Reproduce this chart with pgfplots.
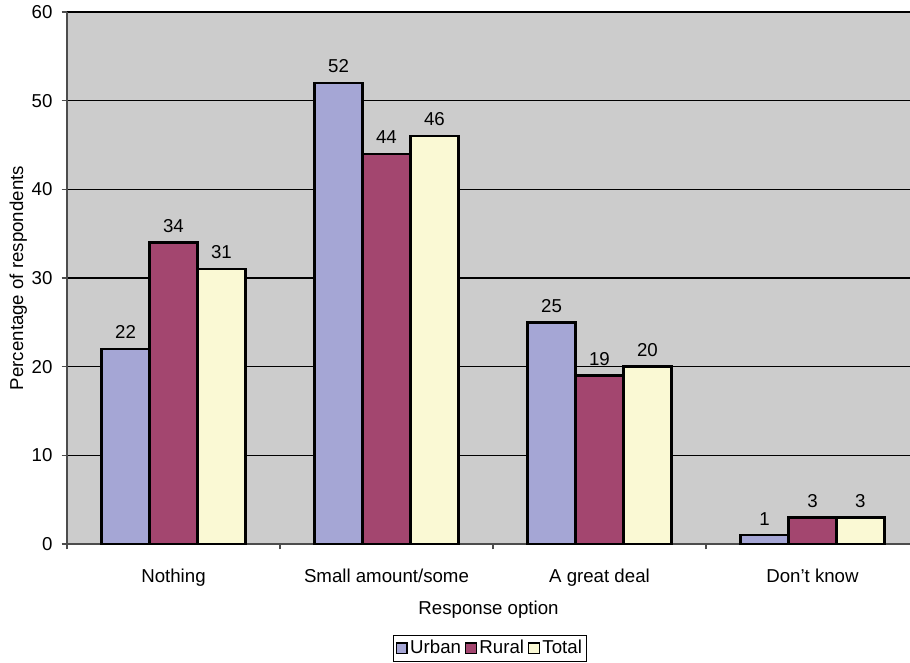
\documentclass[border=0pt]{standalone}
\usepackage{fontspec}
\setmainfont{Liberation Sans}
\usepackage{pgfplots}
\pgfplotsset{compat=1.18}
\definecolor{urban}{HTML}{A5A6D5}
\definecolor{rural}{HTML}{A3466F}
\definecolor{total}{HTML}{FAF9D4}
\definecolor{bg}{HTML}{CCCCCC}
\begin{document}
\fontsize{14}{16}\selectfont
\begin{tikzpicture}
\path[use as bounding box] (-50.25pt,-88.5pt) rectangle (632.25pt,408pt);
\begin{axis}[
  at={(0,0)}, anchor=south west,
  scale only axis,
  width=632.25pt, height=399pt,
  ybar=0pt, bar width=0.225,
  xmin=-0.5, xmax=3.458,
  ymin=0, ymax=60,
  ytick={0,10,...,60},
  xtick={0,1,2,3},
  xticklabels={Nothing, Small amount/some, A great deal, Don't know},
  minor xtick={-0.5,0.5,1.5,2.5},
  major x tick style={draw=none},
  minor tick length=4pt,
  major tick length=4pt,
  tick align=outside,
  tick style={black!70, line width=0.8pt},
  axis x line*=bottom, axis y line*=left,
  axis line style={black!70, line width=1pt},
  axis background/.style={fill=bg},
  ymajorgrids, grid style={black, line width=0.8pt},
  xticklabel style={yshift=-10pt},
  yticklabel style={xshift=-2pt},
  /pgf/number format/assume math mode=true,
  xlabel={Response option},
  ylabel={Percentage of respondents},
  xlabel style={yshift=-1pt},
  ylabel style={yshift=-6pt},
  nodes near coords,
  nodes near coords style={yshift=2pt, /pgf/number format/assume math mode=true},
  every axis plot/.append style={draw=black, line width=1.8pt},
  legend style={at={(0.502,-0.171)}, anchor=north, legend columns=-1,
    draw=black, line width=0.8pt, inner sep=1.5pt, /tikz/every even column/.append style={column sep=1pt}},
  legend image code/.code={\draw[#1, line width=0.8pt] (0pt,-4pt) rectangle (8pt,4pt);},
  clip=false,
]
\addplot[fill=urban] coordinates {(0,22) (1,52) (2,25) (3,1)};
\addplot[fill=rural] coordinates {(0,34) (1,44) (2,19) (3,3)};
\addplot[fill=total] coordinates {(0,31) (1,46) (2,20) (3,3)};
\legend{Urban, Rural, Total}
\end{axis}
\end{tikzpicture}
\end{document}
